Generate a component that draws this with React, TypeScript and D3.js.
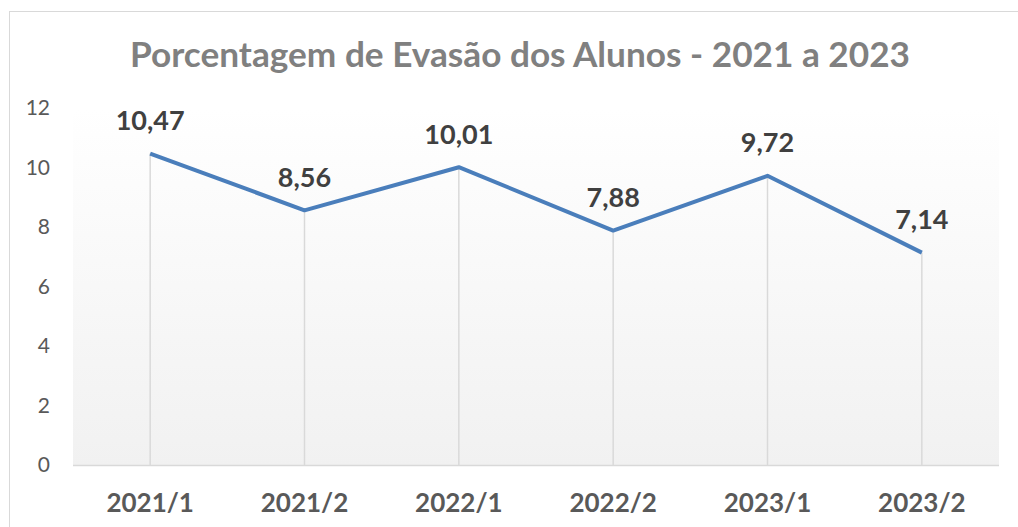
import React from "react";
import * as d3 from "d3";

const periods = ["2021/1", "2021/2", "2022/1", "2022/2", "2023/1", "2023/2"];
const evasion = [10.47, 8.56, 10.01, 7.88, 9.72, 7.14];
const yTicks = [0, 2, 4, 6, 8, 10, 12];
const title = "Porcentagem de Evasão dos Alunos - 2021 a 2023";

const W = 1018, H = 527;
const plot = { left: 73, right: 999, top: 108, bottom: 465 };
const font = "Lato, 'Open Sans', sans-serif";

const App = () => {
    const x = d3.scaleBand().domain(periods).range([plot.left, plot.right]);
    const y = d3.scaleLinear().domain([0, 12]).range([plot.bottom, plot.top]);
    const cx = (p: string) => (x(p) as number) + x.bandwidth() / 2;

    const line = d3.line<number>()
        .x((_, i) => cx(periods[i]))
        .y(d => y(d));

    return (
        <svg width={W} height={H} style={{ position: "absolute", left: 0, top: 0, background: "#fff" }}>
            <defs>
                <linearGradient id="bg" x1="0" y1="0" x2="0" y2="1">
                    <stop offset="0" stopColor="#ffffff" />
                    <stop offset="1" stopColor="#f1f1f1" />
                </linearGradient>
            </defs>
            {/* chart border */}
            <rect x={9.5} y={11.5} width={W + 20} height={H + 20} fill="none" stroke="#d9d9d9" />

            <text x={520} y={67} textAnchor="middle" fontFamily={font} fontWeight="bold"
                fontSize={34} fill="#808080" textLength={780} lengthAdjust="spacingAndGlyphs">
                {title}
            </text>

            {/* plot area */}
            <rect x={plot.left} y={plot.top} width={plot.right - plot.left}
                height={plot.bottom - plot.top} fill="url(#bg)" />

            {/* y axis labels */}
            {yTicks.map(t => (
                <text key={t} x={50} y={y(t)} dy="0.35em" textAnchor="end"
                    fontFamily={font} fontSize={21} fill="#595959">{t}</text>
            ))}

            {/* drop lines */}
            {periods.map((p, i) => (
                <line key={p} x1={cx(p)} x2={cx(p)} y1={y(evasion[i])} y2={plot.bottom}
                    stroke="#d9d9d9" strokeWidth={1.5} />
            ))}

            {/* x axis */}
            <line x1={plot.left} x2={plot.right} y1={plot.bottom + 0.5} y2={plot.bottom + 0.5}
                stroke="#d9d9d9" strokeWidth={1.5} />
            {periods.map(p => (
                <text key={p} x={cx(p)} y={503} dy="0.35em" textAnchor="middle"
                    fontFamily={font} fontWeight="bold" fontSize={26} fill="#595959">{p}</text>
            ))}

            <path d={line(evasion) || ""} fill="none" stroke="#4a7ebb" strokeWidth={4}
                strokeLinejoin="round" />

            {/* data labels */}
            {evasion.map((v, i) => (
                <text key={i} x={cx(periods[i])} y={y(v) - 33} dy="0.35em" textAnchor="middle"
                    fontFamily={font} fontWeight="bold" fontSize={27} fill="#404040">
                    {v.toFixed(2).replace(".", ",")}
                </text>
            ))}
        </svg>
    );
};

export default App;
